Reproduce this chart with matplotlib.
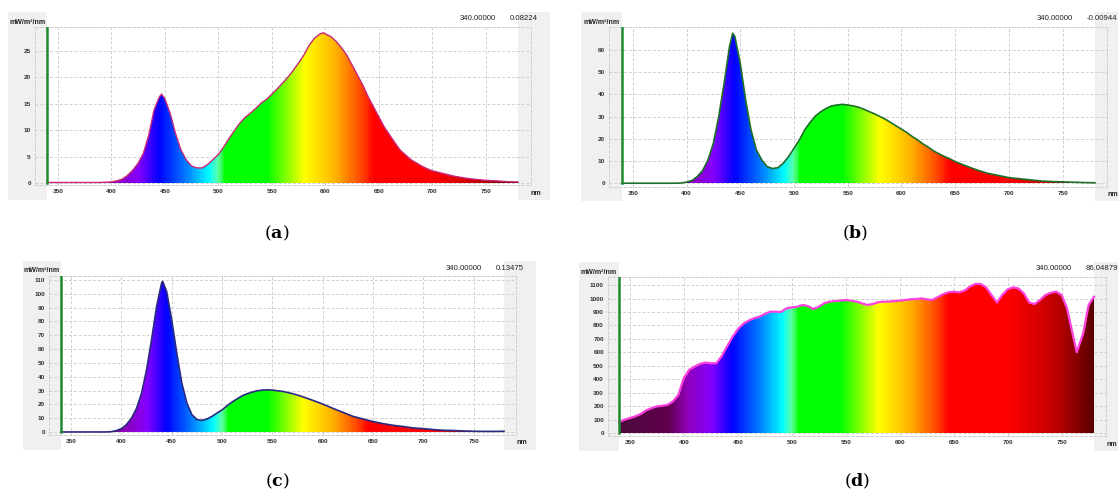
import matplotlib
matplotlib.use("Agg")
import matplotlib.pyplot as plt
import numpy as np
from matplotlib.colors import LinearSegmentedColormap
from matplotlib.patches import Rectangle

plt.rcParams['font.family'] = ['Liberation Sans', 'DejaVu Sans']
plt.rcParams['mathtext.fontset'] = 'dejavuserif'

W, H = 1118, 495

# ---- data (wavelength nm, irradiance mW/m2/nm) ----
wl_a = [340, 350, 360, 370, 380, 390, 400, 405, 410, 415, 420, 425, 430, 435, 440, 445, 447,
        450, 455, 460, 465, 470, 475, 480, 485, 490, 495, 500, 505, 510, 515, 520, 525, 530,
        535, 540, 545, 550, 555, 560, 565, 570, 575, 580, 585, 590, 595, 598, 600, 605, 610,
        615, 620, 625, 630, 635, 640, 645, 650, 655, 660, 665, 670, 675, 680, 685, 690, 695,
        700, 710, 720, 730, 740, 750, 760, 770, 780]
irr_a = [0.1, 0.1, 0.1, 0.1, 0.1, 0.1, 0.2, 0.4, 0.7, 1.4, 2.4, 3.7, 5.6, 9.0, 13.8, 16.3, 16.8,
         16.0, 13.2, 9.4, 6.3, 4.4, 3.2, 2.85, 2.85, 3.5, 4.4, 5.4, 6.8, 8.4, 9.9, 11.3, 12.4, 13.2,
         14.1, 15.1, 15.8, 16.8, 17.8, 18.9, 20.0, 21.3, 22.7, 24.2, 26.1, 27.4, 28.2, 28.4, 28.2, 27.7, 26.8,
         25.6, 24.2, 22.3, 20.4, 18.5, 16.3, 14.4, 12.5, 10.6, 9.1, 7.6, 6.2, 5.3, 4.4, 3.8, 3.2, 2.7,
         2.3, 1.8, 1.3, 0.95, 0.7, 0.5, 0.4, 0.25, 0.2]

wl_b = [340, 350, 360, 370, 380, 390, 395, 400, 405, 410, 415, 420, 425, 430, 435, 440, 443,
        445, 450, 455, 460, 465, 470, 475, 480, 485, 490, 495, 500, 505, 510, 515, 520, 525,
        530, 535, 540, 545, 550, 555, 560, 565, 570, 575, 580, 585, 590, 595, 600, 605, 610,
        615, 620, 625, 630, 635, 640, 645, 650, 660, 670, 680, 690, 700, 710, 720, 730, 740,
        750, 760, 770, 780]
irr_b = [0, 0, 0, 0, 0, 0, 0.1, 0.5, 1.2, 3.0, 5.7, 10.5, 18.0, 30.0, 45.0, 61.5, 67.5,
         66.0, 54.0, 37.5, 24.0, 15.0, 10.5, 7.5, 6.6, 7.0, 9.0, 12.0, 15.7, 19.5, 24.0, 27.4, 30.3, 32.2,
         33.7, 34.8, 35.2, 35.5, 35.2, 34.8, 34.2, 33.3, 32.2, 31.2, 30.0, 28.8, 27.3, 25.8, 24.3, 22.8, 21.0,
         19.5, 17.7, 16.2, 14.5, 13.2, 12.0, 11.0, 9.7, 7.8, 6.0, 4.5, 3.5, 2.5, 2.0, 1.5, 1.0, 0.75,
         0.6, 0.45, 0.3, 0.2]

wl_c = [340, 350, 360, 370, 380, 385, 390, 395, 400, 405, 410, 415, 420, 425, 430, 435, 440, 441,
        445, 450, 455, 460, 465, 470, 475, 480, 485, 490, 495, 500, 505, 510, 515, 520, 525, 530,
        535, 540, 545, 550, 555, 560, 565, 570, 575, 580, 590, 600, 610, 620, 630, 640, 650, 660,
        670, 680, 690, 700, 710, 720, 730, 740, 750, 760, 770, 780]
irr_c = [0, 0, 0, 0, 0, 0, 0.2, 1.0, 2.4, 5.3, 10.0, 17.0, 28.0, 45.0, 67.0, 91.0, 108.0, 109.0,
         101.5, 81.0, 57.0, 35.4, 21.0, 12.5, 9.0, 8.4, 9.4, 11.3, 13.7, 16.0, 19.0, 21.7, 24.0, 26.2, 27.7, 28.9,
         29.8, 30.3, 30.5, 30.3, 29.8, 29.4, 28.6, 27.7, 26.7, 25.5, 22.9, 20.2, 17.1, 14.2, 11.3, 9.4, 7.5, 6.0,
         4.8, 3.9, 2.9, 2.4, 1.7, 1.2, 1.0, 0.7, 0.5, 0.4, 0.4, 0.5]

wl_d = [340, 345, 350, 355, 360, 365, 370, 375, 380, 385, 390, 395, 400, 405, 410, 415, 420, 425,
        430, 435, 440, 445, 450, 455, 460, 465, 470, 475, 480, 485, 490, 495, 500, 505, 510, 515,
        520, 525, 530, 535, 540, 545, 550, 555, 560, 565, 570, 575, 580, 585, 590, 595, 600, 605,
        610, 615, 620, 625, 630, 635, 640, 645, 650, 655, 660, 665, 670, 675, 680, 685, 690, 695,
        700, 705, 710, 715, 720, 725, 730, 735, 740, 745, 750, 755, 760, 764, 770, 775, 780]
irr_d = [82, 99, 111, 124, 141, 168, 185, 198, 203, 210, 235, 284, 408, 470, 494, 514, 524, 519,
         519, 569, 643, 712, 771, 811, 836, 853, 865, 885, 902, 902, 900, 927, 934, 939, 952, 944,
         922, 939, 964, 977, 981, 984, 989, 984, 977, 964, 952, 959, 972, 977, 977, 981, 984, 989,
         994, 996, 1001, 994, 989, 1009, 1031, 1046, 1051, 1046, 1058, 1088, 1108, 1108, 1083, 1026, 970, 1026,
         1068, 1083, 1075, 1038, 970, 959, 989, 1026, 1043, 1051, 1026, 927, 742, 600, 742, 952, 1013]

labels = ['a', 'b', 'c', 'd']
cursor_wl = 340
readouts = ['0.08224', '-0.00944', '0.13475', '86.04879']
yticks = [np.arange(0, 30, 5), np.arange(0, 70, 10), np.arange(0, 120, 10), np.arange(0, 1200, 100)]
xticks = np.arange(350, 800, 50)

# ---- layout (pixels, top-left origin) ----
panels = [
    dict(box=(35, 531, 27, 185), xlim=(328.8, 792.1), ylim=(-0.38, 29.5),
         lg=(8, 47), rg=(518, 550), gy=(12, 200), line='#c8287a', lw=1.0),
    dict(box=(609, 1107, 27, 187), xlim=(327.9, 791.2), ylim=(-1.7, 70.3),
         lg=(581, 622), rg=(1095, 1130), gy=(12, 201), line='#1f6e2a', lw=1.2),
    dict(box=(49, 516, 276, 435), xlim=(328.1, 791.9), ylim=(-2.2, 112.9),
         lg=(23, 61), rg=(504, 536), gy=(261, 450), line='#2a2a80', lw=1.2),
    dict(box=(608, 1106, 277, 436), xlim=(329.8, 791.1), ylim=(-22, 1160),
         lg=(579, 619), rg=(1094, 1130), gy=(262, 451), line='#ff40e0', lw=1.6),
]
captions_xy = [(277, 233), (855, 233), (277, 481), (857, 481)]

stops = [(340, '#4e0a3c'), (385, '#600050'), (402, '#9000b8'), (425, '#8400ff'),
         (444, '#0000ff'), (470, '#0080ff'), (491, '#00ffff'), (499, '#60ffa8'),
         (506, '#00ff00'), (545, '#00ff00'), (580, '#ffff00'), (610, '#ffb000'),
         (635, '#ff4000'), (645, '#ff0000'), (700, '#ff0000'), (745, '#c00000'), (780, '#5a0000')]
spec = LinearSegmentedColormap.from_list('spec', [((w - 340) / 440, c) for w, c in stops])

fig = plt.figure(figsize=(W / 100, H / 100), dpi=100)


def fx(px):
    return px / W


def fy(py):
    return 1 - py / H


datasets = [(wl_a, irr_a), (wl_b, irr_b), (wl_c, irr_c), (wl_d, irr_d)]

for i, p in enumerate(panels):
    x0, x1, y0, y1 = p['box']
    gy0, gy1 = p['gy']
    for gx0, gx1 in (p['lg'], p['rg']):
        fig.patches.append(Rectangle((fx(gx0), fy(gy1)), fx(gx1) - fx(gx0), fy(gy0) - fy(gy1),
                                     transform=fig.transFigure, facecolor='#f0f0f0',
                                     edgecolor='none', zorder=-5))
    ax = fig.add_axes([fx(x0), fy(y1), fx(x1) - fx(x0), fy(y0) - fy(y1)])
    ax.patch.set_alpha(0)
    wl, irr = datasets[i]
    ytop = p['ylim'][1]

    grad = spec(np.linspace(0, 1, 441))[np.newaxis, :, :3]
    im = ax.imshow(grad, extent=[340, 780, 0, ytop], aspect='auto', origin='lower',
                   interpolation='bilinear', zorder=2)
    poly = ax.fill_between(wl, 0, irr, facecolor='none', edgecolor='none')
    im.set_clip_path(poly.get_paths()[0], transform=ax.transData)
    ax.plot(wl, irr, color=p['line'], lw=p['lw'], zorder=3)
    ax.plot([cursor_wl, cursor_wl], [0, ytop], color='#1d8a2e', lw=1.8, zorder=4)

    ax.set_xlim(*p['xlim'])
    ax.set_ylim(*p['ylim'])
    ax.set_xticks(xticks)
    ax.set_yticks(yticks[i])
    ax.tick_params(length=0, labelsize=4.6, colors='#333333', pad=3)
    for lab in ax.get_xticklabels() + ax.get_yticklabels():
        lab.set_fontweight('bold')
    ax.grid(True, color='#d0d0d0', linestyle=(0, (3, 2)), lw=0.7, zorder=1)
    for s in ax.spines.values():
        s.set_color('#d0d0d0')
        s.set_linestyle((0, (3, 2)))
        s.set_linewidth(0.7)

    # unit labels and readout
    fig.text(fx((p['lg'][0] + p['lg'][1]) / 2), fy(gy0 + 10), 'mW/m²/nm', fontsize=5,
             fontweight='bold', ha='center', va='center', color='#222222')
    fig.text(fx(p['rg'][0] + 18), fy(y1 + 8), 'nm', fontsize=5, fontweight='bold',
             ha='center', va='center', color='#222222')
    fig.text(fx(p['rg'][0] - 58), fy(gy0 + 7), '340.00000', fontsize=5.6,
             ha='left', va='center', color='#222222')
    fig.text(fx(p['rg'][0] - 8), fy(gy0 + 7), readouts[i], fontsize=5.6,
             ha='left', va='center', color='#222222')

    cx, cy = captions_xy[i]
    fig.text(fx(cx), fy(cy), r'($\mathbf{%s}$)' % labels[i], fontsize=12.5,
             family='DejaVu Serif', ha='center', va='center', color='black')

fig.savefig('out.png', dpi=100)
